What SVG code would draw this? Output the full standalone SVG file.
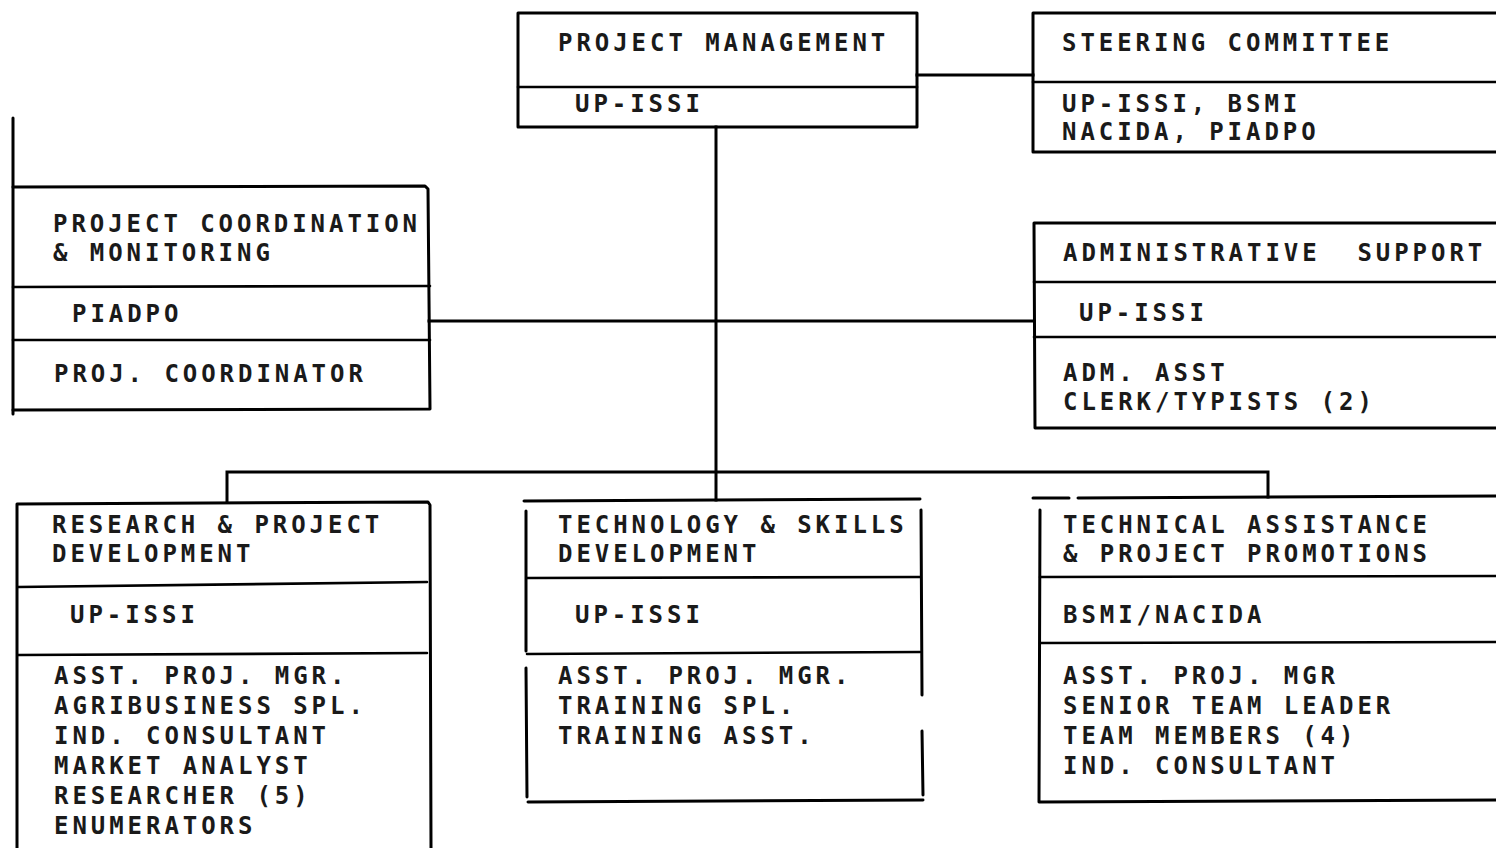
<svg xmlns="http://www.w3.org/2000/svg" width="1496" height="848" viewBox="0 0 1496 848">
  <style>
    .frame { fill: none; stroke: #000; stroke-width: 3; stroke-linecap: round; stroke-linejoin: round; }
    .rule { fill: none; stroke: #000; stroke-width: 2.6; stroke-linecap: round; }
    .wire { fill: none; stroke: #000; stroke-width: 3; stroke-linecap: square; }
    text { font-family: "DejaVu Sans Mono", "Liberation Mono", monospace; font-size: 24px; font-weight: bold; letter-spacing: 3.95px; fill: #1a1a1a; white-space: pre; }
  </style>
  <rect width="1496" height="848" fill="#fff"/>

  <!-- connectors -->
  <g id="connectors">
    <line class="wire" x1="917" y1="75" x2="1033" y2="75"/>
    <line class="wire" x1="716" y1="127" x2="716" y2="500"/>
    <line class="wire" x1="429" y1="321" x2="1034" y2="321"/>
    <polyline class="wire" points="227,502 227,472 1268,472 1268,497"/>
  </g>

  <!-- project management -->
  <g id="project-management">
    <rect class="frame" x="518" y="13" width="399" height="114"/>
    <line class="rule" x1="518" y1="87" x2="917" y2="87"/>
    <text x="558" y="51">PROJECT MANAGEMENT</text>
    <text x="575" y="112">UP-ISSI</text>
  </g>

  <!-- steering committee -->
  <g id="steering-committee">
    <polyline class="frame" points="1500,13 1033,13 1033,152 1500,152"/>
    <line class="rule" x1="1033" y1="82" x2="1500" y2="82"/>
    <text x="1062" y="51">STEERING COMMITTEE</text>
    <text x="1062" y="112">UP-ISSI, BSMI</text>
    <text x="1062" y="140">NACIDA, PIADPO</text>
  </g>

  <!-- project coordination & monitoring -->
  <g id="project-coordination">
    <line class="frame" x1="13" y1="118" x2="13" y2="414"/>
    <polyline class="frame" points="13,187 425,186 428,189 430,409 13,410"/>
    <line class="rule" x1="13" y1="287" x2="430" y2="286"/>
    <line class="rule" x1="13" y1="340" x2="430" y2="340"/>
    <text x="53" y="232">PROJECT COORDINATION</text>
    <text x="53" y="261">&amp; MONITORING</text>
    <text x="72" y="322">PIADPO</text>
    <text x="54" y="382">PROJ. COORDINATOR</text>
  </g>

  <!-- administrative support -->
  <g id="administrative-support">
    <polyline class="frame" points="1500,223 1034,223 1035,428 1500,428"/>
    <line class="rule" x1="1034" y1="282" x2="1500" y2="282"/>
    <line class="rule" x1="1034" y1="337" x2="1500" y2="337"/>
    <text x="1063" y="261" xml:space="preserve">ADMINISTRATIVE&#160; SUPPORT</text>
    <text x="1079" y="321">UP-ISSI</text>
    <text x="1063" y="381">ADM. ASST</text>
    <text x="1063" y="410">CLERK/TYPISTS (2)</text>
  </g>

  <!-- research & project development -->
  <g id="research-development">
    <polyline class="frame" points="17,850 17,504 428,502 430,505 431,848"/>
    <line class="rule" x1="18" y1="587" x2="427" y2="582"/>
    <line class="rule" x1="18" y1="655" x2="427" y2="653"/>
    <text x="52" y="533">RESEARCH &amp; PROJECT</text>
    <text x="52" y="562">DEVELOPMENT</text>
    <text x="70" y="623">UP-ISSI</text>
    <text x="54" y="684">ASST. PROJ. MGR.</text>
    <text x="54" y="714">AGRIBUSINESS SPL.</text>
    <text x="54" y="744">IND. CONSULTANT</text>
    <text x="54" y="774">MARKET ANALYST</text>
    <text x="54" y="804">RESEARCHER (5)</text>
    <text x="54" y="834">ENUMERATORS</text>
  </g>

  <!-- technology & skills development -->
  <g id="technology-skills">
    <line class="frame" x1="524" y1="501" x2="920" y2="499"/>
    <line class="frame" x1="526" y1="511" x2="526" y2="651"/>
    <line class="frame" x1="526" y1="668" x2="527" y2="797"/>
    <line class="frame" x1="921" y1="510" x2="922" y2="695"/>
    <line class="frame" x1="922" y1="731" x2="923" y2="795"/>
    <line class="frame" x1="528" y1="802" x2="923" y2="800"/>
    <line class="rule" x1="527" y1="578" x2="920" y2="577"/>
    <line class="rule" x1="527" y1="654" x2="920" y2="652"/>
    <text x="558" y="533">TECHNOLOGY &amp; SKILLS</text>
    <text x="558" y="562">DEVELOPMENT</text>
    <text x="575" y="623">UP-ISSI</text>
    <text x="558" y="684">ASST. PROJ. MGR.</text>
    <text x="558" y="714">TRAINING SPL.</text>
    <text x="558" y="744">TRAINING ASST.</text>
  </g>

  <!-- technical assistance & project promotions -->
  <g id="technical-assistance">
    <line class="frame" x1="1033" y1="498" x2="1069" y2="498"/>
    <line class="frame" x1="1078" y1="498" x2="1500" y2="496"/>
    <polyline class="frame" points="1040,510 1039,802 1500,800"/>
    <line class="rule" x1="1040" y1="577" x2="1500" y2="576"/>
    <line class="rule" x1="1040" y1="643" x2="1500" y2="642"/>
    <text x="1063" y="533">TECHNICAL ASSISTANCE</text>
    <text x="1063" y="562">&amp; PROJECT PROMOTIONS</text>
    <text x="1063" y="623">BSMI/NACIDA</text>
    <text x="1063" y="684">ASST. PROJ. MGR</text>
    <text x="1063" y="714">SENIOR TEAM LEADER</text>
    <text x="1063" y="744">TEAM MEMBERS (4)</text>
    <text x="1063" y="774">IND. CONSULTANT</text>
  </g>
</svg>
